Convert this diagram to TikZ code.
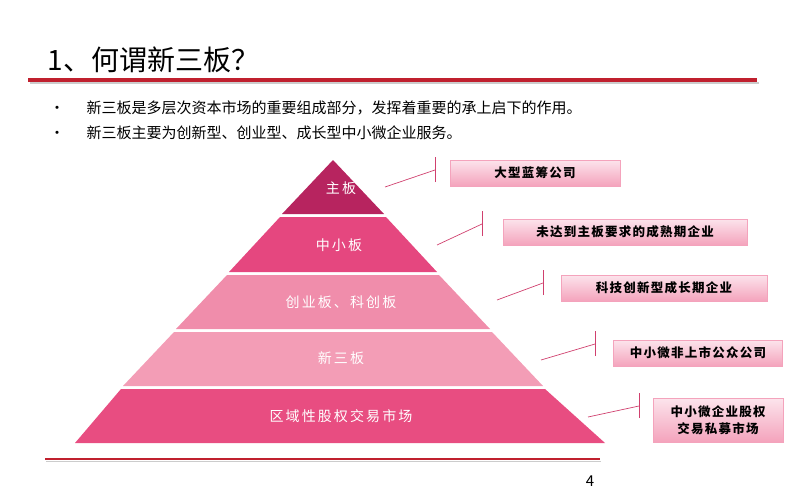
\documentclass[tikz,border=0pt]{standalone}
\usepackage{fontspec}
\setmainfont{Noto Sans CJK SC}
\usetikzlibrary{positioning}
\definecolor{lvA}{HTML}{B7245F}
\definecolor{lvB}{HTML}{E5477F}
\definecolor{lvC}{HTML}{F08DAB}
\definecolor{lvD}{HTML}{F39DB6}
\definecolor{lvE}{HTML}{E84D81}
\definecolor{barred}{HTML}{C0202E}
\definecolor{tagline}{HTML}{D0406E}
\definecolor{tagtop}{HTML}{FCE4EC}
\definecolor{tagbot}{HTML}{F4A3BC}
\tikzset{
  lvtext/.style={text=white, font=\fontsize{14}{16}\selectfont\addfontfeature{LetterSpace=15}},
  tag/.style={draw=tagbot, top color=tagtop, bottom color=tagbot, font=\fontsize{12.5}{17}\selectfont\bfseries\addfontfeature{LetterSpace=10}, inner sep=2pt, align=center},
  pointer/.style={draw=tagline, line width=0.7pt}
}
\begin{document}
\begin{tikzpicture}[x=1pt, y=-1pt]
  \useasboundingbox (0,0) rectangle (800,500);
  % Title
  \node (title) [anchor=west, font=\fontsize{28}{32}\selectfont] at (44,60) {1、何谓新三板？};
  \fill[barred] (28,78) rectangle (757,82);
  \fill[gray!40] (30,82) rectangle (759,84);
  % Bullets
  \node (b1) [anchor=west, font=\fontsize{15}{18}\selectfont] at (46,108) {•\hspace{22pt}新三板是多层次资本市场的重要组成部分，发挥着重要的承上启下的作用。};
  \node (b2) [anchor=west, font=\fontsize{15}{18}\selectfont] at (46,133) {•\hspace{22pt}新三板主要为创新型、创业型、成长型中小微企业服务。};
  % Pyramid levels
  \fill[lvA] (333,160) -- (384,214) -- (282,214) -- cycle;
  \fill[lvB] (280,217) -- (386,217) -- (437,272) -- (229,272) -- cycle;
  \fill[lvC] (227,275) -- (439,275) -- (490,329) -- (176,329) -- cycle;
  \fill[lvD] (174,332) -- (492,332) -- (543,386) -- (123,386) -- cycle;
  \fill[lvE] (121,389) -- (545,389) -- (605,443) -- (75,443) -- cycle;
  \node (main) [lvtext] at (341,188) {主板};
  \node (sme) [lvtext] at (339,245) {中小板};
  \node (gem) [lvtext] at (341,302) {创业板、科创板};
  \node (neeq) [lvtext] at (341,358) {新三板};
  \node (reg) [lvtext] at (341,416) {区域性股权交易市场};
  % Tags
  \node (tagA) [tag, minimum width=170pt, minimum height=26pt] at (535,173) {大型蓝筹公司};
  \node (tagB) [tag, minimum width=244pt, minimum height=26pt] at (625,232) {未达到主板要求的成熟期企业};
  \node (tagC) [tag, minimum width=206pt, minimum height=26pt] at (664,288) {科技创新型成长期企业};
  \node (tagD) [tag, minimum width=169pt, minimum height=26pt] at (698,353) {中小微非上市公众公司};
  \node (tagE) [tag, minimum width=130pt, minimum height=44pt] at (718,420) {中小微企业股权\\交易私募市场};
  % Pointers
  \coordinate (pA) at (385,187); \coordinate (qA) at (435,170);
  \coordinate (pB) at (437,245); \coordinate (qB) at (482,224);
  \coordinate (pC) at (497,300); \coordinate (qC) at (543,283);
  \coordinate (pD) at (541,360); \coordinate (qD) at (595,344);
  \coordinate (pE) at (588,417); \coordinate (qE) at (639,406);
  \foreach \t in {A,B,C,D,E} {
    \draw[pointer] (p\t) -- (q\t);
    \draw[pointer] ([yshift=-12pt]q\t) -- ([yshift=13pt]q\t);
  }
  % Footer
  \draw[barred, line width=1.2pt] (45,459) -- (600,459);
  \draw[gray!40, line width=0.8pt] (46,461) -- (601,461);
  \node (page) [font=\fontsize{15}{17}\selectfont] at (590,481) {4};
\end{tikzpicture}
\end{document}
